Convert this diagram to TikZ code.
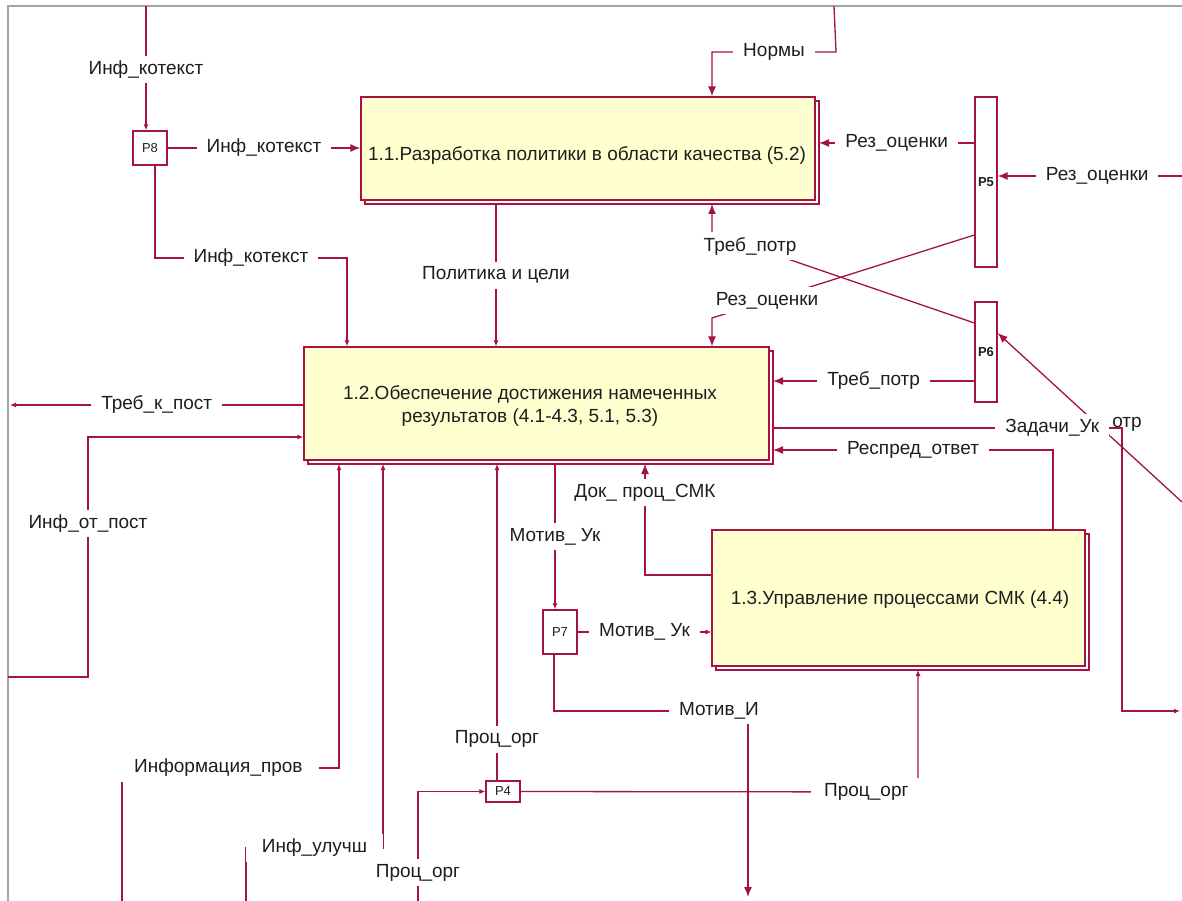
\documentclass[tikz,border=0pt]{standalone}
\usepackage{fontspec}
\setmainfont{Liberation Sans}
\usetikzlibrary{arrows.meta}
\definecolor{ln}{RGB}{165,20,65}
\definecolor{bx}{RGB}{255,255,208}
\definecolor{fr}{RGB}{165,165,165}
\definecolor{tx}{RGB}{30,30,30}
\begin{document}
\begin{tikzpicture}[x=1pt,y=-1pt,
  font=\fontsize{19}{23}\selectfont,
  flow/.style={draw=ln, line width=1.3pt},
  arr/.style={-{Latex[length=10pt,width=8pt]}},
  sarr/.style={-{Latex[length=6pt,width=5pt]}},
  lab/.style={fill=white, inner xsep=10pt, inner ysep=5pt, text=tx},
  proc/.style={draw=ln, fill=bx, line width=1.3pt, text=tx, align=center, inner sep=0pt},
  shad/.style={draw=ln, line width=1.1pt},
  pbox/.style={draw=ln, fill=white, line width=1.3pt, text=tx, inner sep=0pt, font=\fontsize{13}{15}\selectfont}
]
\useasboundingbox (0,0) rectangle (1182,901);
\fill[white] (0,0) rectangle (1182,901);
\draw[fr, line width=1.3pt] (8,901) -- (8,6) -- (1182,6);

% boxes
\draw[shad] (365,101) rectangle (819,204);
\node[proc, minimum width=454pt, minimum height=103pt] (b11) at (588,148.5) {};
\node[text=tx] (t11) at (587,156) {1.1.Разработка политики в области качества (5.2)};

\draw[shad] (308,351) rectangle (773,464);
\node[proc, minimum width=465pt, minimum height=113pt] (b12) at (536.5,403.5) {};
\node[text=tx, align=center] (t12) at (530,406) {1.2.Обеспечение достижения намеченных\\результатов (4.1-4.3, 5.1, 5.3)};

\draw[shad] (716,534) rectangle (1089,670);
\node[proc, minimum width=373pt, minimum height=136pt] (b13) at (898.5,598) {};
\node[text=tx] (t13) at (900,600) {1.3.Управление процессами СМК (4.4)};

% small junction boxes
\node[pbox, minimum width=34pt, minimum height=34pt] (P8) at (150,148) {P8};
\node[pbox, minimum width=22pt, minimum height=170pt, font=\fontsize{13}{15}\bfseries] (P5) at (986,182) {P5};
\node[pbox, minimum width=22pt, minimum height=100pt, font=\fontsize{13}{15}\bfseries] (P6) at (986,352) {P6};
\node[pbox, minimum width=34pt, minimum height=44pt] (P7) at (560,632) {P7};
\node[pbox, minimum width=34pt, minimum height=21pt] (P4) at (503,791.5) {P4};

% free ends
\coordinate (c1) at (146,6);
\coordinate (n0) at (834,6);
\coordinate (r1) at (1182,176);
\coordinate (r2) at (1182,502);
\coordinate (r3) at (1180,711);
\coordinate (m0) at (748,897);
\coordinate (q0) at (418,901);
\coordinate (i0) at (122,901);
\coordinate (u0) at (246,901);
\coordinate (t0) at (10,405);
\coordinate (f0) at (8,677);

% connectors
\draw[flow,sarr] (c1) -- node[lab,pos=0.51]{Инф\_котекст} (c1 |- P8.north);
\draw[flow,arr] (P8.east) -- node[lab]{Инф\_котекст} (P8.east -| b11.west);
\draw[flow,sarr] ([xshift=5pt]P8.south) |- node[lab,pos=0.75]{Инф\_котекст} (347,258) -- (347,258 |- b12.north);

\draw[flow,arr] (n0) -- (836,52) -- node[lab]{Нормы} (712,52) -- (712,52 |- b11.north);
\draw[flow,sarr] (496,204) -- node[lab]{Политика и цели} (496,204 |- b12.north);

\draw[flow,arr] (P5.west |- 0,143) -- node[lab]{Рез\_оценки} (819,143);
\draw[flow,arr] (r1) -- node[lab,pos=0.46]{Рез\_оценки} (P5.east |- r1);
\draw[flow,arr] (P5.west |- 0,235) -- node[lab,pos=0.79]{Рез\_оценки} (712,318) -- (712,318 |- b12.north);
\draw[flow,arr] (P6.west |- 0,323) -- node[lab,pos=0.855]{Треб\_потр} (712,233) -- (712,204);
\draw[flow,arr] (P6.west |- 0,381) -- node[lab]{Треб\_потр} (773,381);

\draw[flow,arr] (r2) -- (P6.east |- 0,333);
\node[lab, inner xsep=2pt] (otr) at (1127,424) {отр};
\draw[flow,sarr] (773,428) -- node[lab,pos=0.80]{Задачи\_Ук} (1122,428) -- (1122,711) -- (r3);

\draw[flow,arr] (1053,0 |- b13.north) |- node[lab,pos=0.75]{Респред\_ответ} (773,450);
\draw[flow,arr] (b13.west |- 0,575) -| node[lab,pos=0.87]{Док\_ проц\_СМК} (645,464);
\draw[flow,sarr] (555,464) -- node[lab]{Мотив\_ Ук} (555,0 |- P7.north);
\draw[flow,sarr] (P7.east) -- node[lab]{Мотив\_ Ук} (P7.east -| b13.west);
\draw[flow,arr] ([xshift=-6pt]P7.south) |- node[lab,pos=0.925]{Мотив\_И} (748,711) -- (m0);

\draw[flow,sarr] (P4.east) -- node[lab,pos=0.87,inner xsep=13pt]{Проц\_орг} (918,792) -- (918,670);
\draw[flow,sarr] ([xshift=-6pt]P4.north) -- node[lab,pos=0.13]{Проц\_орг} (497,464);
\draw[flow,sarr] (q0) |- node[lab,pos=0.13]{Проц\_орг} (P4.west);

\draw[flow,sarr] (i0) |- node[lab,pos=0.722,inner xsep=16pt]{Информация\_пров} (339,768) -- (339,464);
\draw[flow,sarr] (u0) |- node[lab,pos=0.75,inner xsep=16pt]{Инф\_улучш} (383,848) -- (383,464);

\draw[flow,sarr] (b12.west |- 0,405) -- node[lab]{Треб\_к\_пост} (t0);
\draw[flow,sarr] (f0) -- (88,677) -- node[lab,pos=0.64]{Инф\_от\_пост} (88,437) -- (b12.west |- 0,437);
\end{tikzpicture}
\end{document}
